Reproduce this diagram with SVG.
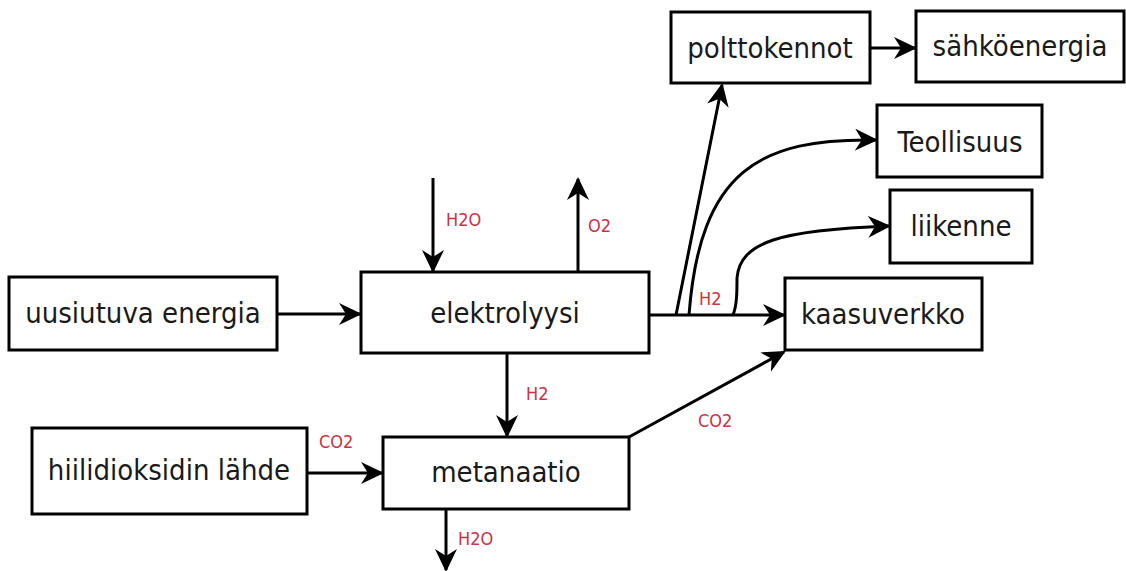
<svg xmlns="http://www.w3.org/2000/svg" width="1126" height="571" viewBox="0 0 1126 571">
<style>
.box{fill:#fff;stroke:#000;stroke-width:3}
.t{font-family:"DejaVu Sans Condensed","DejaVu Sans",sans-serif;font-stretch:condensed;font-size:29px;fill:#1a1a1a;text-anchor:middle}
.lbl{font-family:"DejaVu Sans Condensed","DejaVu Sans",sans-serif;font-stretch:condensed;font-size:18px;fill:#cc3344}
.c{fill:none;stroke:#000;stroke-width:3}
</style>
<defs>
<marker id="ah" markerUnits="userSpaceOnUse" markerWidth="26" markerHeight="24" refX="21" refY="11" orient="auto">
<path d="M0,0 L23,11 L0,22 L7,11 z" fill="#000"/>
</marker>
</defs>
<rect width="1126" height="571" fill="#fff"/>
<g id="connectors">
<line class="c" x1="277" y1="314" x2="360" y2="314" marker-end="url(#ah)"/>
<line class="c" x1="433" y1="178" x2="433" y2="271" marker-end="url(#ah)"/>
<line class="c" x1="578" y1="272" x2="578" y2="179" marker-end="url(#ah)"/>
<line class="c" x1="649" y1="315" x2="784" y2="315" marker-end="url(#ah)"/>
<line class="c" x1="676" y1="315" x2="722" y2="85" marker-end="url(#ah)"/>
<path class="c" d="M689,315 C700,170 760,138 876,140" marker-end="url(#ah)"/>
<path class="c" d="M733,315 C737,305 737,292 737,278 C740,242 780,230 889,226" marker-end="url(#ah)"/>
<line class="c" x1="870" y1="48" x2="915" y2="48" marker-end="url(#ah)"/>
<line class="c" x1="507" y1="353" x2="507" y2="436" marker-end="url(#ah)"/>
<line class="c" x1="307" y1="473" x2="382" y2="473" marker-end="url(#ah)"/>
<line class="c" x1="446" y1="509" x2="446" y2="570" marker-end="url(#ah)"/>
<line class="c" x1="629" y1="437" x2="784" y2="352" marker-end="url(#ah)"/>
<text class="lbl" x="446" y="226">H2O</text>
<text class="lbl" x="588" y="232">O2</text>
<text class="lbl" x="699" y="305">H2</text>
<text class="lbl" x="526" y="400">H2</text>
<text class="lbl" x="319" y="448">CO2</text>
<text class="lbl" x="698" y="427">CO2</text>
<text class="lbl" x="458" y="545">H2O</text>
</g>
<g id="uusiutuva"><rect class="box" x="9" y="277" width="268" height="73"/><text class="t" x="143" y="323">uusiutuva energia</text></g>
<g id="elektrolyysi"><rect class="box" x="361" y="272" width="288" height="81"/><text class="t" x="505" y="323">elektrolyysi</text></g>
<g id="hiilidioksidi"><rect class="box" x="32" y="428" width="275" height="86"/><text class="t" x="169" y="480">hiilidioksidin lähde</text></g>
<g id="metanaatio"><rect class="box" x="383" y="437" width="246" height="72"/><text class="t" x="506" y="482">metanaatio</text></g>
<g id="polttokennot"><rect class="box" x="671" y="12" width="199" height="71"/><text class="t" x="770" y="58">polttokennot</text></g>
<g id="sahkoenergia"><rect class="box" x="916" y="11" width="208" height="71"/><text class="t" x="1020" y="56">sähköenergia</text></g>
<g id="teollisuus"><rect class="box" x="877" y="105" width="165" height="72"/><text class="t" x="960" y="152">Teollisuus</text></g>
<g id="liikenne"><rect class="box" x="890" y="190" width="142" height="73"/><text class="t" x="961" y="236">liikenne</text></g>
<g id="kaasuverkko"><rect class="box" x="785" y="278" width="197" height="72"/><text class="t" x="883" y="324">kaasuverkko</text></g>
</svg>
